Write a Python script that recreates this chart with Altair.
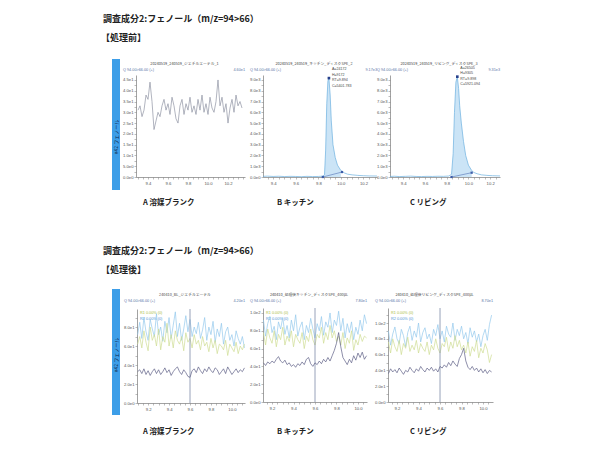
import altair as alt
import pandas as pd

# ---------------- texts ----------------
SECTION_TITLE = "調査成分2:フェノール（m/z=94>66）"
STAGES = ["【処理前】", "【処理後】"]
COMPOUND = "#42 フェノール"
SAMPLES = ["A 溶媒ブランク", "B キッチン", "C リビング"]
TRANSITION = "Q 94.00>66.00 (+)"
TOP_FILES = ["20240519_240519_ジエチルエーテル_1",
             "20240519_240519_キッチン_ディスクSPE_2",
             "20240519_240519_リビング_ディスクSPE_3"]
TOP_MAX = ["4.60e1", "9.17e3", "9.31e3"]
BOT_FILES = ["240410_BL_ジエチルエーテル",
             "240410_処理後キッチン_ディスクSPE_400μL",
             "240410_処理後リビング_ディスクSPE_400μL"]
BOT_MAX = ["4.20e1", "7.80e1", "8.70e1"]
LEGEND = ["R1 0.00% (0)", "R2 0.00% (0)"]

# ---------------- data: before treatment ----------------
X_TOP_A = [9.30, 9.32, 9.34, 9.36, 9.38, 9.40, 9.42, 9.44, 9.46, 9.48,
           9.50, 9.52, 9.54, 9.56, 9.58, 9.60, 9.62, 9.64, 9.66, 9.68,
           9.70, 9.72, 9.74, 9.76, 9.78, 9.80, 9.82, 9.84, 9.86, 9.88,
           9.90, 9.92, 9.94, 9.96, 9.98, 10.00, 10.02, 10.04, 10.06, 10.08,
           10.10, 10.12, 10.14, 10.16, 10.18, 10.20, 10.22, 10.24, 10.26, 10.28,
           10.30, 10.32, 10.34]
Y_TOP_A = [31, 33, 28, 31, 38, 36, 44, 35, 22, 26,
           30, 28, 33, 36, 31, 34, 29, 37, 33, 27,
           25, 33, 36, 29, 34, 31, 37, 30, 33, 29,
           36, 31, 38, 30, 34, 29, 37, 32, 30, 35,
           45, 33, 37, 30, 34, 25, 32, 36, 30, 38,
           33, 35, 32]

X_TOP_B = [9.31, 9.35, 9.40, 9.45, 9.50, 9.55, 9.60, 9.65, 9.70, 9.75,
           9.80, 9.84, 9.855, 9.865, 9.875, 9.885, 9.894, 9.905, 9.915, 9.93,
           9.95, 9.97, 10.00, 10.03, 10.06, 10.10, 10.15, 10.20, 10.25, 10.32]
Y_TOP_B = [60, 80, 50, 70, 40, 60, 50, 30, 60, 40,
           50, 80, 200, 2500, 6800, 8900, 9172, 7600, 5200, 3000,
           1800, 1100, 600, 380, 260, 200, 150, 120, 100, 90]
BASE_B_X = [9.84, 10.01]
BASE_B_Y = [0, 460]
PEAK_B_RT = 9.894
PEAK_B_H = 9172
PEAK_B_TEXT = "A=24172\nH=9172\nRT=9.894\nC=5401.783"

X_TOP_C = [9.28, 9.32, 9.37, 9.42, 9.47, 9.52, 9.57, 9.62, 9.67, 9.72,
           9.77, 9.82, 9.845, 9.86, 9.872, 9.885, 9.898, 9.91, 9.92, 9.935,
           9.955, 9.975, 10.00, 10.03, 10.05, 10.08, 10.12, 10.17, 10.22, 10.29]
Y_TOP_C = [50, 70, 40, 60, 80, 50, 40, 60, 50, 70,
           60, 90, 250, 2200, 6000, 8800, 9305, 8200, 6600, 5000,
           3300, 2000, 1100, 600, 420, 300, 200, 150, 120, 100]
BASE_C_X = [9.845, 10.03]
BASE_C_Y = [0, 400]
PEAK_C_RT = 9.898
PEAK_C_H = 9305
PEAK_C_TEXT = "A=26505\nH=9305\nRT=9.898\nC=5921.094"

# ---------------- data: after treatment ----------------
X_BOT = [9.10, 9.12, 9.14, 9.16, 9.18, 9.20, 9.22, 9.24, 9.26, 9.28,
         9.30, 9.32, 9.34, 9.36, 9.38, 9.40, 9.42, 9.44, 9.46, 9.48,
         9.50, 9.52, 9.54, 9.56, 9.58, 9.60, 9.62, 9.64, 9.66, 9.68,
         9.70, 9.72, 9.74, 9.76, 9.78, 9.80, 9.82, 9.84, 9.86, 9.88,
         9.90, 9.92, 9.94, 9.96, 9.98, 10.00, 10.02, 10.04, 10.06, 10.08,
         10.10, 10.12]
A_LIGHT = [72, 85, 68, 90, 75, 66, 88, 78, 70, 94,
           72, 80, 65, 86, 74, 90, 68, 82, 96, 70,
           84, 66, 78, 92, 75, 88, 70, 80, 73, 85,
           68, 77, 90, 66, 80, 72, 86, 64, 78, 70,
           84, 62, 75, 80, 66, 72, 60, 76, 68, 62,
           70, 58]
A_YELLOW = [62, 70, 58, 76, 64, 55, 80, 66, 72, 60,
            78, 56, 70, 64, 84, 60, 72, 58, 76, 66,
            62, 70, 55, 74, 64, 68, 58, 72, 62, 66,
            56, 70, 60, 64, 54, 68, 58, 66, 52, 62,
            60, 56, 66, 50, 62, 58, 54, 64, 52, 60,
            56, 62]
A_DARK = [33, 35, 31, 36, 30, 34, 29, 33, 36, 31,
          35, 30, 33, 37, 32, 35, 29, 33, 36, 38,
          33, 30, 35, 32, 28, 27, 34, 36, 32, 38,
          34, 31, 36, 33, 38, 34, 32, 37, 35, 30,
          33, 36, 31, 38, 34, 30, 33, 36, 32, 35,
          33, 37]
B_LIGHT = [80, 92, 74, 88, 96, 78, 85, 70, 90, 82,
           95, 76, 86, 72, 92, 80, 98, 74, 84, 90,
           70, 86, 78, 94, 82, 72, 88, 80, 96, 75,
           90, 84, 100, 78, 92, 86, 102, 80, 94, 72,
           88, 78, 90, 70, 84, 76, 92, 80, 98, 88,
           100, 95]
B_YELLOW = [70, 78, 64, 82, 72, 66, 80, 62, 76, 70,
            84, 64, 74, 68, 80, 62, 76, 70, 66, 78,
            60, 74, 68, 82, 70, 64, 76, 72, 84, 66,
            78, 70, 86, 72, 80, 68, 74, 64, 78, 60,
            72, 66, 80, 58, 70, 64, 76, 68, 74, 72,
            78, 74]
B_DARK = [42, 44, 41, 45, 43, 46, 44, 48, 51, 46,
          44, 47, 42, 44, 40, 42, 39, 43, 41, 45,
          42, 48, 50, 43, 40, 44, 42, 46, 43, 48,
          45, 50, 46, 52, 58, 66, 78, 62, 50, 46,
          42, 48, 44, 52, 47, 55, 50, 56, 48, 52,
          49, 53]
C_LIGHT = [78, 90, 72, 86, 95, 80, 74, 92, 84, 70,
           88, 96, 78, 90, 82, 100, 76, 88, 94, 80,
           86, 74, 92, 84, 98, 80, 90, 76, 96, 86,
           82, 100, 78, 92, 84, 96, 80, 88, 74, 94,
           82, 90, 76, 86, 70, 84, 92, 78, 98, 110,
           104, 100]
C_YELLOW = [68, 76, 62, 80, 70, 64, 78, 60, 74, 68,
            82, 64, 72, 66, 78, 62, 74, 68, 64, 76,
            60, 72, 66, 80, 68, 62, 74, 70, 82, 64,
            76, 68, 84, 70, 78, 66, 72, 62, 76, 58,
            70, 64, 78, 56, 68, 62, 74, 66, 50, 60,
            66, 62]
C_DARK = [40, 36, 42, 38, 41, 37, 43, 39, 35, 40,
          38, 44, 40, 37, 42, 39, 45, 41, 38, 43,
          40, 44, 39, 42, 38, 45, 43, 47, 44, 50,
          46, 52, 48, 45, 55, 60, 68, 52, 44, 41,
          45, 40, 43, 38, 42, 37, 41, 36, 40, 38,
          41, 40]
MARKER_RT = 9.6

# ---------------- layout / style ----------------
M = 8
W, H = 584, 434


def P(v):
    return v - M


AX_FONT = "Liberation Sans"
JP_FONT = "Noto Sans CJK JP"
AX_COLOR = "#7a7a7a"
LBL_COLOR = "#555555"
BLUE_BAR = "#3d9ee8"
Q_COLOR = "#5a76a8"
LIGHT = "#94c8ec"
YELLOW = "#cfdc93"
DARK = "#5d5f85"

TOP_PX = [(136, 245), (263, 377), (390, 500)]
TOP_PY = (177, 75)
TOP_XDOM = [[9.28, 10.37], [9.31, 10.32], [9.28, 10.29]]
BOT_PX = [(137, 245), (263, 367), (388, 493)]
BOT_PY = [(403, 309), (402, 308), (402, 308)]
BOT_XDOM = [[9.094, 10.125], [9.116, 10.084], [9.116, 10.093]]
BOT_YMAX = [99, 105.6, 119]

ONE = pd.DataFrame({"k": [0]})


def xaxis(bottom, dom, start):
    ticks = [round(start + 0.05 * i, 2) for i in range(30)]
    ticks = [t for t in ticks if dom[0] <= t <= dom[1]]
    return alt.Axis(
        orient="bottom", offset=P(bottom) - H, values=ticks,
        labelExpr="abs(datum.value * 5 - round(datum.value * 5)) < 0.001 ? format(datum.value, '.1f') : ''",
        labelFont=AX_FONT, labelFontSize=4.2, labelColor=LBL_COLOR, labelPadding=2,
        labelOverlap=False, labelFlush=False, labelBound=False,
        tickSize=2, tickWidth=0.5, tickColor=AX_COLOR,
        domainColor=AX_COLOR, domainWidth=0.7, grid=False, title=None)


def yaxis(left, ymax, step):
    ticks = [step / 2 * i for i in range(40) if step / 2 * i <= ymax]
    expr = (f"abs(datum.value / {step} - round(datum.value / {step})) < 0.001 ? "
            "replace(format(datum.value, '.1e'), '+', '') : ''")
    return alt.Axis(
        orient="left", offset=-P(left), values=ticks, labelExpr=expr,
        labelFont=AX_FONT, labelFontSize=4.2, labelColor=LBL_COLOR, labelPadding=1,
        labelOverlap=False, labelFlush=False, labelBound=False,
        tickSize=2, tickWidth=0.5, tickColor=AX_COLOR,
        domainColor=AX_COLOR, domainWidth=0.7, grid=False, title=None)


def scales(xdom, xpx, ydom, ypx):
    xs = alt.Scale(domain=xdom, range=[P(xpx[0]), P(xpx[1])], nice=False, zero=False)
    ys = alt.Scale(domain=ydom, range=[P(ypx[0]), P(ypx[1])], nice=False, zero=False)
    return xs, ys


def txt(s, x, y, size=3.8, color="#444444", align="left", weight="normal",
        font=JP_FONT, angle=0):
    return alt.Chart(ONE).mark_text(
        text=s, fontSize=size, color=color, align=align, baseline="middle",
        fontWeight=weight, font=font, angle=angle
    ).encode(x=alt.value(P(x)), y=alt.value(P(y)))


def bar(x0, x1, y0, y1):
    return alt.Chart(ONE).mark_rect(color=BLUE_BAR).encode(
        x=alt.value(P(x0)), x2=alt.value(P(x1)), y=alt.value(P(y0)), y2=alt.value(P(y1)))


def panel_texts(i, px, title_y, files, maxes):
    x0, x1 = px
    return [
        txt(files[i], (x0 + x1) / 2 - 6, title_y, align="center", color="#444444"),
        txt(TRANSITION, x0 - 13, title_y + 6, color=Q_COLOR, font=AX_FONT),
        txt(maxes[i], x1, title_y + 6, color=Q_COLOR, font=AX_FONT, align="right"),
    ]


def top_noise_panel():
    xs, ys = scales(TOP_XDOM[0], TOP_PX[0], [0, 47.3], TOP_PY)
    df = pd.DataFrame({"x": X_TOP_A, "y": Y_TOP_A})
    return [alt.Chart(df).mark_line(color="#8f93a3", strokeWidth=0.7).encode(
        x=alt.X("x:Q", scale=xs, axis=xaxis(TOP_PY[0], TOP_XDOM[0], 9.30)),
        y=alt.Y("y:Q", scale=ys, axis=yaxis(TOP_PX[0][0], 47.3, 5)))]


def top_peak_panel(i, xv, yv, bx, by, rt, h, ann):
    xdom, xpx = TOP_XDOM[i], TOP_PX[i]
    xs, ys = scales(xdom, xpx, [0, 9460], TOP_PY)
    df = pd.DataFrame({"x": xv, "y": yv})
    X = alt.X("x:Q", scale=xs, axis=xaxis(TOP_PY[0], xdom, 9.30))
    Y = alt.Y("y:Q", scale=ys, axis=yaxis(xpx[0], 9460, 1000))
    Xn = alt.X("x:Q", scale=xs, axis=None)
    Yn = alt.Y("y:Q", scale=ys, axis=None)
    area = alt.Chart(df).transform_filter(
        f"datum.x >= {bx[0]} && datum.x <= {bx[1]}"
    ).mark_area(color="#cbe4f6", opacity=1).encode(
        x=Xn, y=Yn, y2=alt.Y2Datum(0))
    line = alt.Chart(df).mark_line(color="#6bb0e0", strokeWidth=0.7).encode(x=X, y=Y)
    bdf = pd.DataFrame({"x": bx, "y": by})
    base = alt.Chart(bdf).mark_line(color="#3b5ba8", strokeWidth=0.5).encode(x=Xn, y=Yn)
    bpts = alt.Chart(bdf).mark_square(color="#3b5ba8", size=5, opacity=1).encode(x=Xn, y=Yn)
    pdf = pd.DataFrame({"x": [rt], "y": [h], "t": [ann]})
    peak = alt.Chart(pdf).mark_square(color="#27408b", size=7, opacity=1).encode(x=Xn, y=Yn)
    note = alt.Chart(pdf).mark_text(
        align="left", baseline="top", dx=3, dy=-11, fontSize=3.6, lineHeight=5.5,
        lineBreak="\n", color="#444444", font=AX_FONT
    ).encode(x=Xn, y=Yn, text="t:N")
    return [area, line, base, bpts, peak, note]


def bottom_panel(i, light, yellow, dark):
    xdom, xpx, ypx, ymax = BOT_XDOM[i], BOT_PX[i], BOT_PY[i], BOT_YMAX[i]
    xs, ys = scales(xdom, xpx, [0, ymax], ypx)
    df = pd.DataFrame({"x": X_BOT, "light": light, "yellow": yellow, "dark": dark})
    flt = f"datum.x >= {xdom[0]} && datum.x <= {xdom[1]}"
    X = alt.X("x:Q", scale=xs, axis=xaxis(ypx[0], xdom, 9.10))
    Xn = alt.X("x:Q", scale=xs, axis=None)
    base = alt.Chart(df).transform_filter(flt)
    l1 = base.mark_line(color=LIGHT, strokeWidth=0.7).encode(
        x=X, y=alt.Y("light:Q", scale=ys, axis=yaxis(xpx[0], ymax, 20)))
    l2 = base.mark_line(color=YELLOW, strokeWidth=0.7).encode(
        x=Xn, y=alt.Y("yellow:Q", scale=ys, axis=None))
    rule = alt.Chart(ONE).mark_rule(color="#7d8ca8", strokeWidth=0.8).encode(
        x=alt.XDatum(MARKER_RT, scale=xs, axis=None),
        y=alt.YDatum(0, scale=ys, axis=None),
        y2=alt.Y2Datum(ymax))
    l3 = base.mark_line(color=DARK, strokeWidth=0.7).encode(
        x=Xn, y=alt.Y("dark:Q", scale=ys, axis=None))
    return [l1, l2, rule, l3]


layers = [
    txt(SECTION_TITLE, 103, 19, size=9, weight="bold", color="#222222"),
    txt(STAGES[0], 101, 38, size=9, weight="bold", color="#222222"),
    txt(SECTION_TITLE, 103, 251, size=9, weight="bold", color="#222222"),
    txt(STAGES[1], 101, 270, size=9, weight="bold", color="#222222"),
    bar(112, 120, 59, 190),
    bar(112, 120, 289, 415),
    txt(COMPOUND, 116, 137, size=5, color="#0d2448", align="center", angle=270),
    txt(COMPOUND, 116, 355, size=5, color="#0d2448", align="center", angle=270),
]
for lx, s in zip([143, 277, 410], SAMPLES):
    layers.append(txt(s, lx, 203, size=7.5, weight="bold", color="#222222"))
    layers.append(txt(s, lx, 432, size=7.5, weight="bold", color="#222222"))

for i in range(3):
    layers += panel_texts(i, TOP_PX[i], 64, TOP_FILES, TOP_MAX)
    layers += panel_texts(i, BOT_PX[i], 295, BOT_FILES, BOT_MAX)
    layers.append(txt(LEGEND[0], BOT_PX[i][0] + 3, 313, color="#a9bd3f", font=AX_FONT))
    layers.append(txt(LEGEND[1], BOT_PX[i][0] + 3, 319, color="#4d95d6", font=AX_FONT))

layers += top_noise_panel()
layers += top_peak_panel(1, X_TOP_B, Y_TOP_B, BASE_B_X, BASE_B_Y, PEAK_B_RT, PEAK_B_H, PEAK_B_TEXT)
layers += top_peak_panel(2, X_TOP_C, Y_TOP_C, BASE_C_X, BASE_C_Y, PEAK_C_RT, PEAK_C_H, PEAK_C_TEXT)
layers += bottom_panel(0, A_LIGHT, A_YELLOW, A_DARK)
layers += bottom_panel(1, B_LIGHT, B_YELLOW, B_DARK)
layers += bottom_panel(2, C_LIGHT, C_YELLOW, C_DARK)

chart = alt.layer(*layers).resolve_scale(
    x="independent", y="independent"
).properties(
    width=W, height=H, padding=0,
    autosize=alt.AutoSizeParams(type="none"),
    background="white",
).configure_view(stroke=None)

chart.save("out.html", embed_options={"renderer": "svg", "actions": False})
